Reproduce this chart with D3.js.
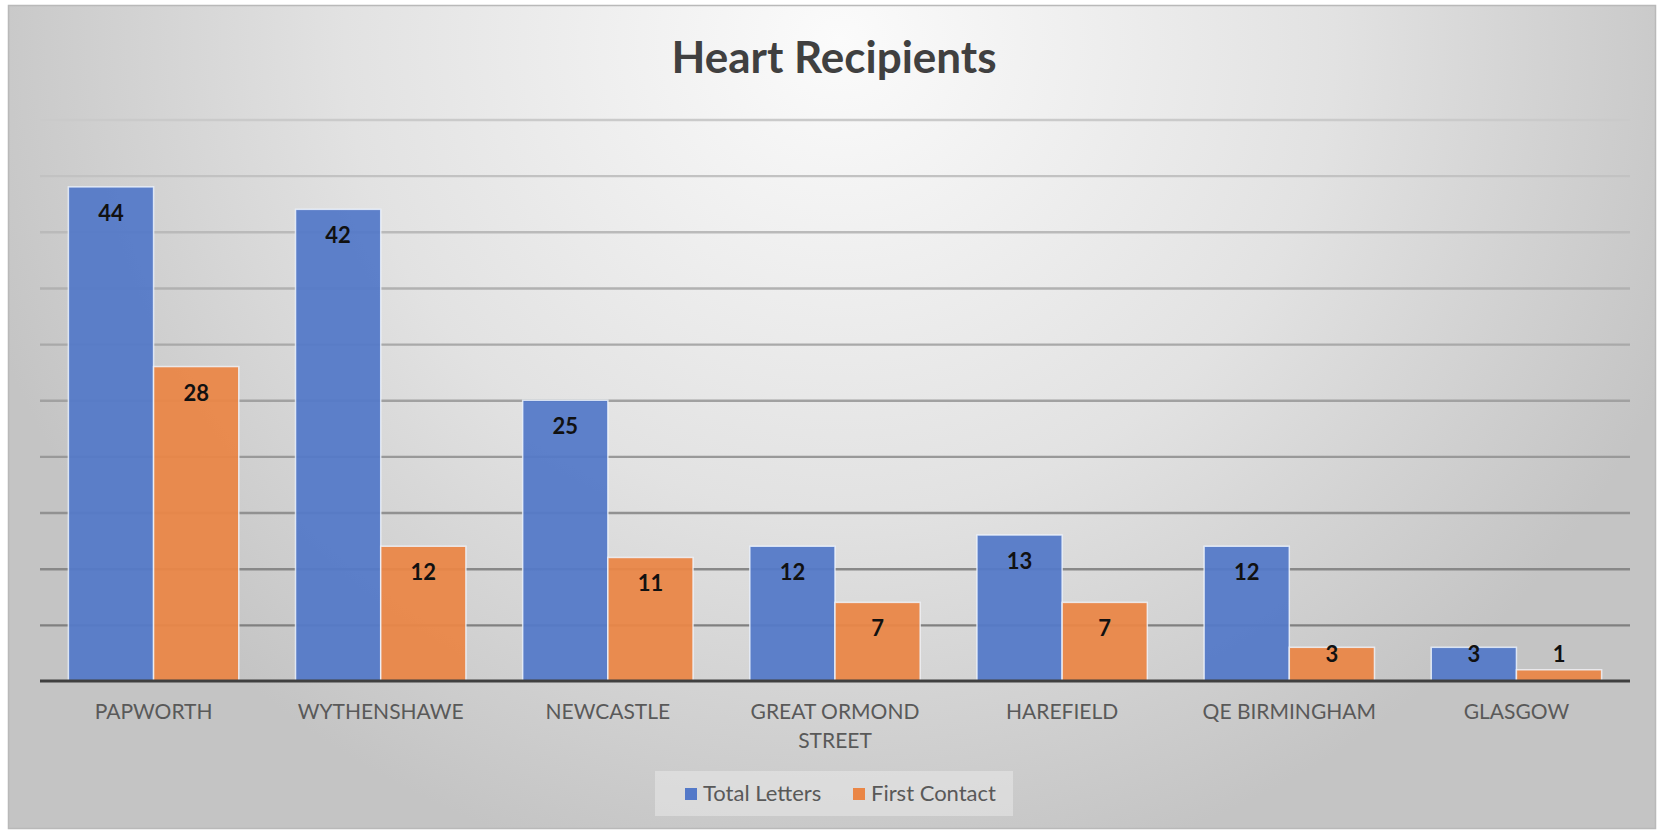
<!DOCTYPE html>
<html><head><meta charset="utf-8">
<script src="https://cdn.jsdelivr.net/npm/d3@7/dist/d3.min.js"></script>
<style>html,body{margin:0;padding:0;background:#fff;}svg{display:block;}</style>
</head><body>
<svg id="chart" width="1664" height="830"></svg>
<script>
const categories = ["PAPWORTH", "WYTHENSHAWE", "NEWCASTLE", "GREAT ORMOND STREET", "HAREFIELD", "QE BIRMINGHAM", "GLASGOW"];
const seriesNames = ["Total Letters", "First Contact"];
const totalLetters = [44, 42, 25, 12, 13, 12, 3];
const firstContact = [28, 12, 11, 7, 7, 3, 1];
const yTicks = [0, 5, 10, 15, 20, 25, 30, 35, 40, 45, 50];
const titleText = "Heart Recipients";

(function(){
const colors = ["#5479C8", "#EA8646"];
const svg = d3.select("#chart");
const defs = svg.append("defs");

const bg = defs.append("radialGradient").attr("id","bg")
  .attr("gradientUnits","userSpaceOnUse").attr("cx",840).attr("cy",40).attr("r",900)
  .attr("gradientTransform","translate(840,40) scale(1,0.95) translate(-840,-40)");
bg.append("stop").attr("offset","0").attr("stop-color","#fbfbfb");
bg.append("stop").attr("offset","0.55").attr("stop-color","#e2e2e2");
bg.append("stop").attr("offset","1").attr("stop-color","#c4c4c4");

svg.append("rect").attr("x",8.5).attr("y",5.5).attr("width",1647).attr("height",823)
  .attr("fill","url(#bg)").attr("stroke","#b9b9b9").attr("stroke-width",1.5);

const pLeft = 40, pRight = 1630, pTop = 119.5, pBottom = 681;
const x = d3.scaleBand().domain(categories).range([pLeft, pRight]).paddingInner(0.25).paddingOuter(0.125);
const xs = d3.scaleBand().domain(seriesNames).range([0, x.bandwidth()]).padding(0);
const y = d3.scaleLinear().domain([0, 50]).range([pBottom, pTop]);
const gridColor = d3.scaleLinear().domain([pTop, pBottom]).range(["#cacaca", "#787878"]).interpolate(d3.interpolateRgb);

// gridlines
const yAxis = d3.axisLeft(y).tickValues(yTicks.filter(t => t > 0)).tickSize(-(pRight-pLeft)).tickFormat("");
const ga = svg.append("g").attr("transform",`translate(${pLeft},0)`).call(yAxis);
ga.select(".domain").remove();
ga.selectAll(".tick line").attr("stroke", d => gridColor(y(d))).attr("stroke-width",2.4);

// bars
const data = categories.map((c,i) => ({cat:c, vals:[totalLetters[i], firstContact[i]]}));
const groups = svg.append("g").selectAll("g").data(data).join("g")
  .attr("transform", d => `translate(${x(d.cat)},0)`);
groups.selectAll("rect").data(d => d.vals.map((v,j)=>({v, s:seriesNames[j], j}))).join("rect")
  .attr("x", d => xs(d.s)).attr("y", d => y(d.v))
  .attr("width", xs.bandwidth()).attr("height", d => y(0) - y(d.v))
  .attr("fill", d => colors[d.j]).attr("fill-opacity",0.94)
  .attr("stroke","rgba(240,246,255,0.8)").attr("stroke-width",1.5);

groups.selectAll("text").data(d => d.vals.map((v,j)=>({v, s:seriesNames[j], j}))).join("text")
  .attr("x", d => xs(d.s) + xs.bandwidth()/2)
  .attr("y", d => Math.min(y(d.v) + 34, y(0) - 19))
  .attr("text-anchor","middle")
  .attr("font-family","Lato, 'Open Sans', sans-serif").attr("font-weight","bold")
  .attr("font-size",22).attr("fill","#111")
  .text(d => d.v);

// baseline
svg.append("line").attr("x1",pLeft).attr("x2",pRight).attr("y1",y(0)).attr("y2",y(0))
  .attr("stroke","#404040").attr("stroke-width",3);

// x labels
const xa = svg.append("g").attr("transform",`translate(0,${y(0)})`)
  .call(d3.axisBottom(x).tickSize(0).tickFormat(""));
xa.select(".domain").remove();
xa.selectAll(".tick").each(function(d){
  const g = d3.select(this);
  const lines = d === "GREAT ORMOND STREET" ? ["GREAT ORMOND","STREET"] : [d];
  const t = g.append("text").attr("text-anchor","middle")
    .attr("font-family","Lato, 'Open Sans', sans-serif").attr("font-size",21)
    .attr("fill","#595959");
  lines.forEach((l,k) => t.append("tspan").attr("x",0).attr("y",38 + k*29).text(l));
});

// title
svg.append("text").attr("x",834).attr("y",73).attr("text-anchor","middle")
  .attr("font-family","Lato, 'Open Sans', sans-serif").attr("font-weight","bold")
  .attr("font-size",44).attr("fill","#404040").text(titleText);

// legend
const lg = svg.append("g");
lg.append("rect").attr("x",655).attr("y",771).attr("width",358).attr("height",45)
  .attr("fill","#f0f0f0").attr("fill-opacity",0.45);
const lx = [685, 853];
seriesNames.forEach((s,i) => {
  lg.append("rect").attr("x",lx[i]).attr("y",788).attr("width",12).attr("height",12).attr("fill",colors[i]);
  lg.append("text").attr("x",lx[i]+18).attr("y",801)
    .attr("font-family","Lato, 'Open Sans', sans-serif").attr("font-size",22).attr("fill","#595959").text(s);
});
})();
</script>
</body></html>
